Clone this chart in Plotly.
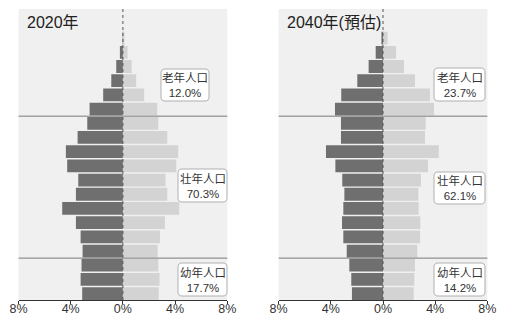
import plotly.graph_objects as go

W, H = 516, 316

ages = ["0-4", "5-9", "10-14", "15-19", "20-24", "25-29", "30-34", "35-39", "40-44",
        "45-49", "50-54", "55-59", "60-64", "65-69", "70-74", "75-79", "80-84", "85-89", "90+"]

male_2020 = [3.12, 3.24, 3.17, 3.09, 3.24, 3.60, 4.65, 3.60, 3.42, 4.27, 4.37, 3.47, 2.73,
             2.55, 1.51, 0.89, 0.51, 0.23, 0.02]
female_2020 = [2.74, 2.81, 2.71, 2.66, 2.84, 3.22, 4.32, 3.40, 3.27, 4.09, 4.24, 3.40, 2.71,
               2.63, 1.63, 1.02, 0.67, 0.36, 0.05]

male_2040 = [2.38, 2.43, 2.58, 2.78, 3.04, 3.14, 3.04, 2.96, 3.12, 3.65, 4.37, 3.22, 3.22,
             3.68, 3.20, 1.97, 1.10, 0.56, 0.12]
female_2040 = [2.35, 2.40, 2.45, 2.63, 2.84, 2.86, 2.73, 2.71, 2.91, 3.45, 4.27, 3.22, 3.27,
               3.91, 3.60, 2.45, 1.61, 1.00, 0.35]

panel_titles = ["2020年", "2040年(預估)"]
group_names = ["老年人口", "壮年人口", "幼年人口"]
shares_2020 = ["12.0%", "70.3%", "17.7%"]
shares_2040 = ["23.7%", "62.1%", "14.2%"]

tick_vals = [-8, -4, 0, 4, 8]
tick_text = ["8%", "4%", "0%", "4%", "8%"]

DARK = "#6f6f6f"
LIGHT = "#d3d3d3"
BG = "#f0f0f0"
FONT = "Liberation Sans, Arial, Noto Sans CJK TC, sans-serif"

fig = go.Figure()
ypos = list(range(len(ages)))

for i, (m, f) in enumerate([(male_2020, female_2020), (male_2040, female_2040)]):
    xa = "x" if i == 0 else "x2"
    ya = "y" if i == 0 else "y2"
    fig.add_trace(go.Bar(y=ypos, x=[-v for v in m], orientation="h",
                         marker=dict(color=DARK, line=dict(width=0)),
                         xaxis=xa, yaxis=ya, showlegend=False, hoverinfo="skip"))
    fig.add_trace(go.Bar(y=ypos, x=f, orientation="h",
                         marker=dict(color=LIGHT, line=dict(width=0)),
                         xaxis=xa, yaxis=ya, showlegend=False, hoverinfo="skip"))

# panel pixel geometry
panels = [(18.5, 227.3), (278.6, 487.4)]
top_px, bot_px = 9, 300

def px2paper(x, y):
    return x / W, 1 - y / H

axis_common = dict(range=[-8, 8], tickvals=tick_vals, ticktext=tick_text, showgrid=False,
                   zeroline=False, showline=True, linecolor="#333", linewidth=1,
                   ticks="outside", ticklen=3, tickcolor="#333", automargin=False,
                   ticklabelstandoff=-6,
                   tickfont=dict(size=12.5, color="#333", family=FONT), fixedrange=True)

fig.update_layout(
    width=W, height=H,
    margin=dict(l=0, r=0, t=0, b=0, pad=0, autoexpand=False),
    paper_bgcolor="white",
    plot_bgcolor=BG,
    barmode="relative",
    bargap=0.1,
    xaxis=dict(domain=[panels[0][0] / W, panels[0][1] / W], anchor="y", **axis_common),
    xaxis2=dict(domain=[panels[1][0] / W, panels[1][1] / W], anchor="y2", **axis_common),
    yaxis=dict(domain=[1 - bot_px / H, 1 - top_px / H], range=[-0.45, 20.05], visible=False,
               fixedrange=True, anchor="x", automargin=False),
    yaxis2=dict(domain=[1 - bot_px / H, 1 - top_px / H], range=[-0.45, 20.05], visible=False,
                fixedrange=True, anchor="x2", automargin=False),
)

shapes = []
annotations = []

def rounded_rect(x0, y0, x1, y1, r):
    def P(x, y):
        px, py = px2paper(x, y)
        return f"{px:.5f},{py:.5f}"
    return (f"M {P(x0 + r, y0)} L {P(x1 - r, y0)} Q {P(x1, y0)} {P(x1, y0 + r)} "
            f"L {P(x1, y1 - r)} Q {P(x1, y1)} {P(x1 - r, y1)} "
            f"L {P(x0 + r, y1)} Q {P(x0, y1)} {P(x0, y1 - r)} "
            f"L {P(x0, y0 + r)} Q {P(x0, y0)} {P(x0 + r, y0)} Z")

boxes = [
    [(161, 69, 209, 101), (178, 169, 227, 202), (178, 263, 227, 296)],
    [(434, 68, 485, 101), (434, 172, 485, 204), (434, 263, 485, 296)],
]
title_pos = [(25, 23), (285, 23)]

for i, shares in enumerate([shares_2020, shares_2040]):
    xa = "x" if i == 0 else "x2"
    ya = "y" if i == 0 else "y2"
    # dotted centre line
    shapes.append(dict(type="line", xref=xa, yref="paper", x0=0, x1=0,
                       y0=1 - bot_px / H, y1=1 - top_px / H,
                       line=dict(color="#555", width=1, dash="dot"), layer="above"))
    # group boundaries
    for yb in [2.5, 12.5]:
        shapes.append(dict(type="line", xref="paper", yref=ya, x0=panels[i][0] / W, x1=panels[i][1] / W,
                           y0=yb, y1=yb, line=dict(color="#7a7a7a", width=1), layer="above"))
    for (bx0, by0, bx1, by1), name, val in zip(boxes[i], group_names, shares):
        shapes.append(dict(type="path", xref="paper", yref="paper", path=rounded_rect(bx0, by0, bx1, by1, 4),
                           fillcolor="white", line=dict(color="#b0b0b0", width=1), layer="above"))
        cx, cy = px2paper((bx0 + bx1) / 2, (by0 + by1) / 2)
        annotations.append(dict(xref="paper", yref="paper", x=cx, y=cy, text=f"{name}<br>{val}",
                                showarrow=False, xanchor="center", yanchor="middle",
                                font=dict(size=11.5, color="#333", family=FONT)))
    tx, ty = px2paper(*title_pos[i])
    annotations.append(dict(xref="paper", yref="paper", x=tx, y=ty, text=panel_titles[i], showarrow=False,
                            xanchor="left", yanchor="middle", font=dict(size=16, color="#222", family=FONT)))

fig.update_layout(shapes=shapes, annotations=annotations)
fig.write_html("out.html", config={"displayModeBar": False},
               post_script="document.body.style.margin='0';document.body.style.overflow='hidden';")
